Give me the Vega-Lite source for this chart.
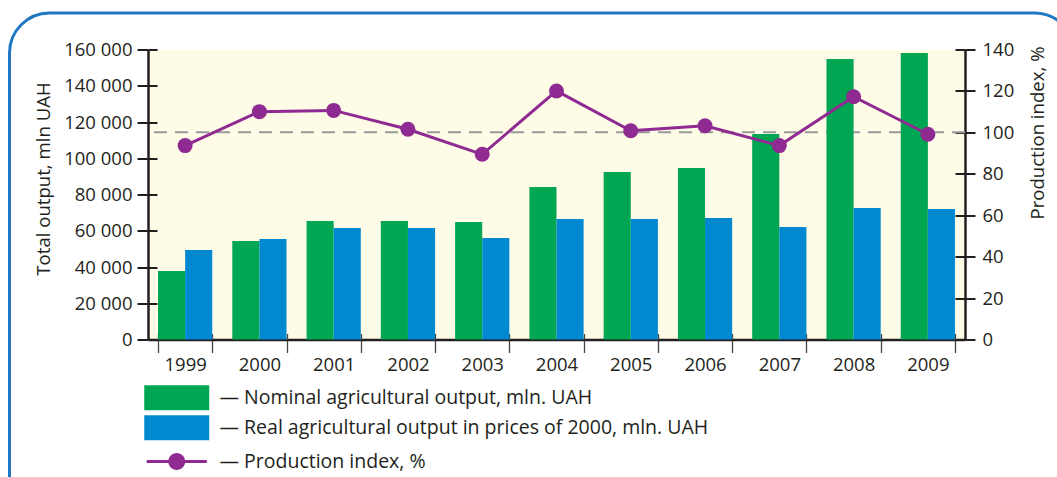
{
  "$schema": "https://vega.github.io/schema/vega-lite/v6.json",
  "autosize": {"type": "none"},
  "width": 817,
  "height": 290,
  "padding": {"left": 148, "top": 49.5, "right": 92, "bottom": 137.5},
  "background": "white",
  "config": {
    "font": "Open Sans",
    "view": {"fill": "#fefbe6", "stroke": null},
    "axis": {
      "labelFont": "Open Sans",
      "labelFontSize": 18.5,
      "labelColor": "#231f20",
      "titleFont": "Open Sans",
      "titleFontSize": 18.6,
      "titleFontWeight": "normal",
      "titleColor": "#231f20",
      "domainColor": "#231f20",
      "domainWidth": 2.5,
      "tickColor": "#231f20",
      "tickWidth": 2,
      "grid": false
    },
    "legend": {
      "labelFont": "Open Sans",
      "labelFontSize": 19.5,
      "labelColor": "#231f20",
      "labelLimit": 900,
      "strokeWidth": 3
    }
  },
  "datasets": {
    "bars": [
      {"year": "1999", "series": "Nominal agricultural output, mln. UAH", "value": 37800},
      {"year": "2000", "series": "Nominal agricultural output, mln. UAH", "value": 54300},
      {"year": "2001", "series": "Nominal agricultural output, mln. UAH", "value": 65400},
      {"year": "2002", "series": "Nominal agricultural output, mln. UAH", "value": 65400},
      {"year": "2003", "series": "Nominal agricultural output, mln. UAH", "value": 64800},
      {"year": "2004", "series": "Nominal agricultural output, mln. UAH", "value": 84100},
      {"year": "2005", "series": "Nominal agricultural output, mln. UAH", "value": 92400},
      {"year": "2006", "series": "Nominal agricultural output, mln. UAH", "value": 94600},
      {"year": "2007", "series": "Nominal agricultural output, mln. UAH", "value": 113400},
      {"year": "2008", "series": "Nominal agricultural output, mln. UAH", "value": 154800},
      {"year": "2009", "series": "Nominal agricultural output, mln. UAH", "value": 158100},
      {"year": "1999", "series": "Real agricultural output in prices of 2000, mln. UAH", "value": 49400},
      {"year": "2000", "series": "Real agricultural output in prices of 2000, mln. UAH", "value": 55500},
      {"year": "2001", "series": "Real agricultural output in prices of 2000, mln. UAH", "value": 61500},
      {"year": "2002", "series": "Real agricultural output in prices of 2000, mln. UAH", "value": 61500},
      {"year": "2003", "series": "Real agricultural output in prices of 2000, mln. UAH", "value": 56000},
      {"year": "2004", "series": "Real agricultural output in prices of 2000, mln. UAH", "value": 66500},
      {"year": "2005", "series": "Real agricultural output in prices of 2000, mln. UAH", "value": 66500},
      {"year": "2006", "series": "Real agricultural output in prices of 2000, mln. UAH", "value": 67000},
      {"year": "2007", "series": "Real agricultural output in prices of 2000, mln. UAH", "value": 62100},
      {"year": "2008", "series": "Real agricultural output in prices of 2000, mln. UAH", "value": 72600},
      {"year": "2009", "series": "Real agricultural output in prices of 2000, mln. UAH", "value": 72000}
    ],
    "idx": [
      {"year": "1999", "label": "Production index, %", "index": 93.6},
      {"year": "2000", "label": "Production index, %", "index": 110.0},
      {"year": "2001", "label": "Production index, %", "index": 110.6},
      {"year": "2002", "label": "Production index, %", "index": 101.5},
      {"year": "2003", "label": "Production index, %", "index": 89.4},
      {"year": "2004", "label": "Production index, %", "index": 120.0},
      {"year": "2005", "label": "Production index, %", "index": 100.8},
      {"year": "2006", "label": "Production index, %", "index": 103.2},
      {"year": "2007", "label": "Production index, %", "index": 93.6},
      {"year": "2008", "label": "Production index, %", "index": 117.2},
      {"year": "2009", "label": "Production index, %", "index": 99.1}
    ],
    "ref": [{"level": 100}]
  },
  "layer": [
    {
      "data": {"name": "ref"},
      "mark": {"type": "rule", "color": "#9a9a9a", "strokeWidth": 2, "strokeDash": [13, 8]},
      "encoding": {
        "y": {
          "field": "level", "type": "quantitative", "scale": {"domain": [0, 140]},
          "axis": {
            "orient": "left", "offset": -9, "domain": false, "labels": false, "title": null,
            "values": [0, 17.5, 35, 52.5, 70, 87.5, 105, 122.5, 140],
            "tickSize": 9
          }
        }
      }
    },
    {
      "data": {"name": "ref"},
      "mark": {"type": "rule", "opacity": 0},
      "encoding": {
        "y": {
          "field": "level", "type": "quantitative", "scale": {"domain": [0, 140]},
          "axis": {
            "orient": "right", "offset": -10, "domain": false, "labels": false, "title": null,
            "values": [0, 20, 40, 60, 80, 100, 120, 140],
            "tickSize": 10
          }
        }
      }
    },
    {
      "data": {"name": "bars"},
      "mark": {"type": "bar"},
      "encoding": {
        "x": {
          "field": "year", "type": "nominal", "title": null,
          "scale": {"paddingInner": 0.27, "paddingOuter": 0.135},
          "axis": {
            "labelAngle": 0,
            "tickBand": "extent",
            "tickSize": 13,
            "tickWidth": 1.3,
            "tickColor": "#444444",
            "labelPadding": 3,
            "labelBaseline": "top"
          }
        },
        "xOffset": {
          "field": "series", "type": "nominal",
          "sort": ["Nominal agricultural output, mln. UAH", "Real agricultural output in prices of 2000, mln. UAH"]
        },
        "y": {
          "field": "value", "type": "quantitative",
          "scale": {"domain": [0, 160000]},
          "axis": {
            "orient": "left",
            "title": "Total output, mln UAH",
            "values": [0, 20000, 40000, 60000, 80000, 100000, 120000, 140000, 160000],
            "labelExpr": "replace(format(datum.value, ','), ',', ' ')",
            "tickSize": 11,
            "labelPadding": 5,
            "titleAngle": -90,
            "titleX": -99,
            "titleY": 129,
            "titleAlign": "center",
            "titleBaseline": "alphabetic"
          }
        },
        "color": {
          "field": "series", "type": "nominal",
          "scale": {
            "domain": ["Nominal agricultural output, mln. UAH", "Real agricultural output in prices of 2000, mln. UAH"],
            "range": ["#00a651", "#0088d1"]
          },
          "legend": {
            "title": null,
            "orient": "none",
            "legendX": 12.25,
            "legendY": 331.75,
            "padding": 0,
            "rowPadding": 0,
            "symbolType": "M-2,-0.77H2V0.77H-2Z",
            "symbolSize": 1056.25,
            "symbolStrokeWidth": 0,
            "labelOffset": 26.25,
            "labelExpr": "'— ' + datum.label"
          }
        },
        "strokeWidth": {
          "field": "year", "type": "ordinal",
          "scale": {"range": [0, 0]},
          "legend": {
            "title": null,
            "orient": "none",
            "legendX": -138.5,
            "legendY": -36.5,
            "padding": 530,
            "rowPadding": 0,
            "symbolSize": 0,
            "symbolOpacity": 0,
            "labelFontSize": 1,
            "labelExpr": "''",
            "strokeColor": "#1f78c1",
            "cornerRadius": 40
          }
        }
      }
    },
    {
      "data": {"name": "idx"},
      "encoding": {
        "x": {
          "field": "year", "type": "nominal", "title": null, "bandPosition": 0.5,
          "axis": {
            "orient": "bottom", "offset": -6, "domain": false, "labels": false, "title": null,
            "tickBand": "extent", "tickSize": 6, "tickWidth": 1.3, "tickColor": "#444444"
          }
        },
        "y": {
          "field": "index", "type": "quantitative",
          "scale": {"domain": [0, 140]},
          "axis": {
            "orient": "right",
            "title": "Production index, %",
            "values": [0, 20, 40, 60, 80, 100, 120, 140],
            "tickSize": 10,
            "labelPadding": 7,
            "titleAngle": -90,
            "titleX": 78,
            "titleY": 83,
            "titleAlign": "center",
            "titleBaseline": "alphabetic"
          }
        }
      },
      "layer": [
        {"mark": {"type": "line", "color": "#8e2a91", "strokeWidth": 3}},
        {
          "mark": {"type": "point", "filled": true, "size": 225, "opacity": 1, "strokeWidth": 0},
          "encoding": {
            "color": {
              "field": "label", "type": "nominal",
              "scale": {"range": ["#8e2a91"]},
              "legend": {
                "title": null,
                "orient": "none",
                "legendX": 12.25,
                "legendY": 395.5,
                "padding": 0,
                "symbolType": "M-1.85,-0.09H1.85V0.09H-1.85Z M0.52,0A0.52,0.52,0,1,1,-0.52,0A0.52,0.52,0,1,1,0.52,0Z",
                "symbolSize": 1056.25,
                "symbolStrokeWidth": 0,
                "symbolOpacity": 1,
                "labelOffset": 26.25,
                "labelExpr": "'— ' + datum.label"
              }
            }
          }
        }
      ]
    }
  ],
  "resolve": {"scale": {"y": "independent", "color": "independent"}, "axis": {"x": "independent"}}
}
